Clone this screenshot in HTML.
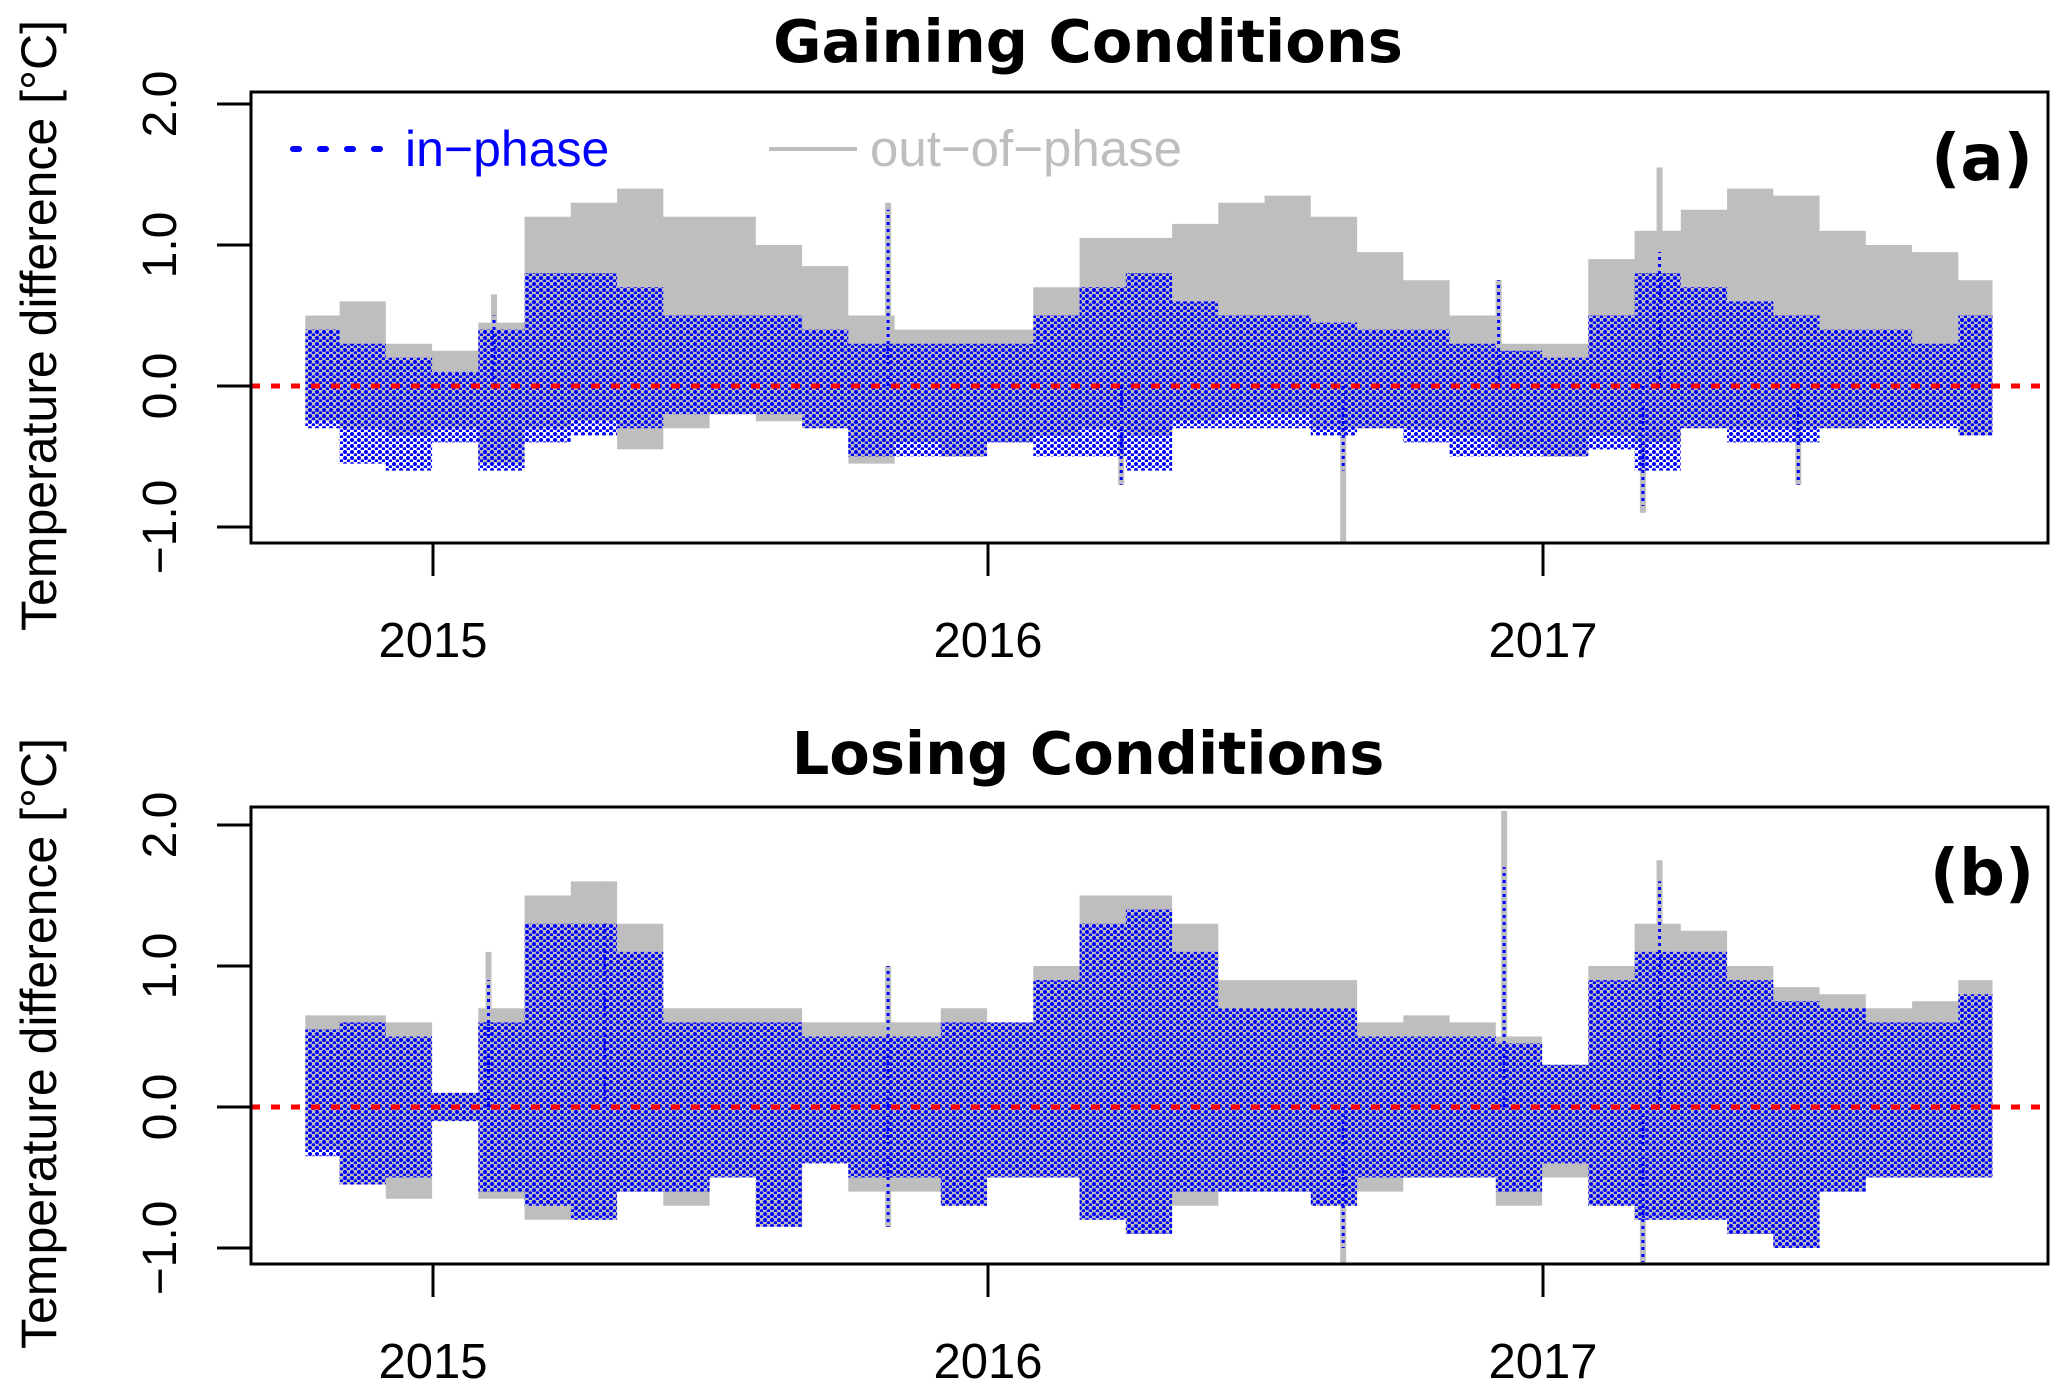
<!DOCTYPE html>
<html><head><meta charset="utf-8"><style>
html,body{margin:0;padding:0;background:#fff;}
svg{display:block;}
</style></head><body>
<svg id="fig" width="2067" height="1392" viewBox="0 0 2067 1392" xmlns="http://www.w3.org/2000/svg">
<defs>
<pattern id="dots" width="7" height="6" patternUnits="userSpaceOnUse">
<circle cx="2" cy="2" r="2" fill="#0000ff"/>
<circle cx="5.5" cy="5" r="1.8" fill="#0000ff"/>
</pattern>
</defs>
<g id="gA"></g>
<g id="gB"></g>
</svg>
<script>
// monthly bins: Oct 2014 .. Oct 2017 (37 months)
const startYear = 2014.79;
const monthStep = 1/12;
// Panel (a) Gaining conditions
const aGrayMax = [0.5,0.6,0.3,0.25,0.45,1.2,1.3,1.4,1.2,1.2,1.0,0.85,0.5,0.4,0.4,0.4,0.7,1.05,1.05,1.15,1.3,1.35,1.2,0.95,0.75,0.5,0.3,0.3,0.9,1.1,1.25,1.4,1.35,1.1,1.0,0.95,0.75];
const aGrayMin = [-0.25,-0.3,-0.35,-0.3,-0.55,-0.3,-0.25,-0.45,-0.3,-0.2,-0.25,-0.3,-0.55,-0.4,-0.5,-0.4,-0.35,-0.3,-0.35,-0.25,-0.2,-0.2,-0.3,-0.3,-0.3,-0.35,-0.45,-0.5,-0.35,-0.4,-0.3,-0.3,-0.3,-0.3,-0.25,-0.25,-0.35];
const aBlueMax = [0.4,0.3,0.2,0.1,0.4,0.8,0.8,0.7,0.5,0.5,0.5,0.4,0.3,0.3,0.3,0.3,0.5,0.7,0.8,0.6,0.5,0.5,0.45,0.4,0.4,0.3,0.25,0.2,0.5,0.8,0.7,0.6,0.5,0.4,0.4,0.3,0.5];
const aBlueMin = [-0.3,-0.55,-0.6,-0.4,-0.6,-0.4,-0.35,-0.3,-0.2,-0.2,-0.2,-0.3,-0.5,-0.5,-0.5,-0.4,-0.5,-0.5,-0.6,-0.3,-0.3,-0.3,-0.35,-0.3,-0.4,-0.5,-0.5,-0.5,-0.45,-0.6,-0.3,-0.4,-0.4,-0.3,-0.3,-0.3,-0.35];
const aSpikeDates = [2015.11,2015.82,2016.24,2016.64,2016.92,2017.18,2017.21,2017.46];
const aSpikeGray = [0.65,1.3,-0.7,-1.15,0.75,-0.9,1.55,-0.7];
const aSpikeBlue = [0.5,1.25,-0.7,-0.6,0.75,-0.85,0.95,-0.7];
// Panel (b) Losing conditions
const bGrayMax = [0.65,0.65,0.6,0.1,0.7,1.5,1.6,1.3,0.7,0.7,0.7,0.6,0.6,0.6,0.7,0.6,1.0,1.5,1.5,1.3,0.9,0.9,0.9,0.6,0.65,0.6,0.5,0.3,1.0,1.3,1.25,1.0,0.85,0.8,0.7,0.75,0.9];
const bGrayMin = [-0.3,-0.55,-0.65,-0.1,-0.65,-0.8,-0.8,-0.6,-0.7,-0.5,-0.85,-0.4,-0.6,-0.6,-0.7,-0.5,-0.5,-0.8,-0.9,-0.7,-0.6,-0.6,-0.7,-0.6,-0.5,-0.5,-0.7,-0.5,-0.7,-0.8,-0.8,-0.9,-1.0,-0.6,-0.5,-0.5,-0.5];
const bBlueMax = [0.55,0.6,0.5,0.1,0.6,1.3,1.3,1.1,0.6,0.6,0.6,0.5,0.5,0.5,0.6,0.6,0.9,1.3,1.4,1.1,0.7,0.7,0.7,0.5,0.5,0.5,0.45,0.3,0.9,1.1,1.1,0.9,0.75,0.7,0.6,0.6,0.8];
const bBlueMin = [-0.35,-0.55,-0.5,-0.1,-0.6,-0.7,-0.8,-0.6,-0.6,-0.5,-0.85,-0.4,-0.5,-0.5,-0.7,-0.5,-0.5,-0.8,-0.9,-0.6,-0.6,-0.6,-0.7,-0.5,-0.5,-0.5,-0.6,-0.4,-0.7,-0.8,-0.8,-0.9,-1.0,-0.6,-0.5,-0.5,-0.5];
const bSpikeDates = [2015.10,2015.31,2015.82,2015.82,2016.64,2016.93,2017.18,2017.21];
const bSpikeGray = [1.1,1.6,1.0,-0.85,-1.15,2.1,-1.15,1.75];
const bSpikeBlue = [0.9,1.3,1.0,-0.85,-1.0,1.7,-1.1,1.6];
const yTicks = [-1.0,0.0,1.0,2.0];
const yTickLabels = ["\u22121.0","0.0","1.0","2.0"];
const xTicks = [2015,2016,2017];
const xTickLabels = ["2015","2016","2017"];

const NS = "http://www.w3.org/2000/svg";
const boxL = 251, boxR = 2048;
function xs(t){ return 433 + (t - 2015) * 555; }
function mk(tag, attrs, parent){ const e = document.createElementNS(NS, tag); for (const k in attrs) e.setAttribute(k, attrs[k]); parent.appendChild(e); return e; }

function band(g, maxArr, minArr, ys, fill, name){
  const pts = [];
  for (let i = 0; i < maxArr.length; i++){
    const t = startYear + i * monthStep;
    const x0 = xs(i === 0 ? t - 0.02 : t - monthStep/2), x1 = xs(i === maxArr.length-1 ? t + 0.02 : t + monthStep/2);
    pts.push([x0, ys(maxArr[i])], [x1, ys(maxArr[i])]);
  }
  for (let i = minArr.length - 1; i >= 0; i--){
    const t = startYear + i * monthStep;
    const x0 = xs(i === 0 ? t - 0.02 : t - monthStep/2), x1 = xs(i === minArr.length-1 ? t + 0.02 : t + monthStep/2);
    pts.push([x1, ys(minArr[i])], [x0, ys(minArr[i])]);
  }
  const p = mk("polygon", {points: pts.map(p => p[0].toFixed(1)+","+p[1].toFixed(1)).join(" "), fill: fill}, g);
  
  
}

function panel(g, o){
  const ys = v => o.y0 - v * 141;
  const clipId = "clip" + o.id;
  const cp = mk("clipPath", {id: clipId}, g);
  mk("rect", {x: boxL, y: o.top, width: boxR - boxL, height: o.bot - o.top}, cp);
  const plot = mk("g", {"clip-path": "url(#" + clipId + ")"}, g);
  
  
  band(plot, o.gMax, o.gMin, ys, "#bebebe", "out-of-phase-series");
  for (let i = 0; i < o.sd.length; i++){
    const l = mk("line", {x1: xs(o.sd[i]), x2: xs(o.sd[i]), y1: ys(0), y2: ys(o.sg[i]), stroke: "#bebebe", "stroke-width": 6}, plot);
    
    
  }
  band(plot, o.bMax, o.bMin, ys, "url(#dots)", "in-phase-series");
  for (let i = 0; i < o.sd.length; i++){
    const l = mk("line", {x1: xs(o.sd[i]), x2: xs(o.sd[i]), y1: ys(0), y2: ys(o.sb[i]), stroke: "#0000ff", "stroke-width": 3, "stroke-dasharray": "3 4"}, plot);
    
    
  }
  const z = mk("line", {x1: boxL, x2: boxR, y1: ys(0), y2: ys(0), stroke: "#ff0000", "stroke-width": 5, "stroke-dasharray": "9 11"}, plot);
  
  
  const box = mk("rect", {x: boxL, y: o.top, width: boxR - boxL, height: o.bot - o.top, fill: "none", stroke: "#000", "stroke-width": 3}, g);
  
  
  for (let i = 0; i < yTicks.length; i++){
    const y = ys(yTicks[i]);
    const tk = mk("line", {x1: 217, x2: boxL, y1: y, y2: y, stroke: "#000", "stroke-width": 3}, g);
    
    
    const tl = mk("text", {x: 0, y: 0, transform: "translate(176," + y + ") rotate(-90)", "text-anchor": "middle", "font-family": "Liberation Sans, sans-serif", "font-size": 48}, g);
    tl.textContent = yTickLabels[i];
    
    
  }
  for (let i = 0; i < xTicks.length; i++){
    const x = xs(xTicks[i]);
    const tk = mk("line", {x1: x, x2: x, y1: o.bot, y2: o.bot + 33, stroke: "#000", "stroke-width": 3}, g);
    
    
    const tl = mk("text", {x: x, y: o.bot + 114, "text-anchor": "middle", "font-family": "Liberation Sans, sans-serif", "font-size": 49}, g);
    tl.textContent = xTickLabels[i];
    
    
  }
  const yt = mk("text", {x: 0, y: 0, transform: "translate(56," + ((o.top + o.bot) / 2 + 8) + ") rotate(-90)", "text-anchor": "middle", "font-family": "Liberation Sans, sans-serif", "font-size": 50}, g);
  yt.textContent = "Temperature difference [°C]";
  
  
  const tt = mk("text", {x: 1088, y: o.titleY, "text-anchor": "middle", "font-family": "DejaVu Sans, sans-serif", "font-weight": "bold", "font-size": 59}, g);
  tt.textContent = o.title;
  
  
  const pl = mk("text", {x: 1982, y: o.top + 88, "text-anchor": "middle", "font-family": "DejaVu Sans, sans-serif", "font-weight": "bold", "font-size": 64}, g);
  pl.textContent = o.label;
  
  
}

panel(document.getElementById("gA"), {id: "A", top: 92, bot: 543, y0: 386, gMax: aGrayMax, gMin: aGrayMin, bMax: aBlueMax, bMin: aBlueMin, sd: aSpikeDates, sg: aSpikeGray, sb: aSpikeBlue, title: "Gaining Conditions", titleY: 62, label: "(a)"});
panel(document.getElementById("gB"), {id: "B", top: 807, bot: 1264, y0: 1107, gMax: bGrayMax, gMin: bGrayMin, bMax: bBlueMax, bMin: bBlueMin, sd: bSpikeDates, sg: bSpikeGray, sb: bSpikeBlue, title: "Losing Conditions", titleY: 774, label: "(b)"});

// legend
const gA = document.getElementById("gA");
const leg = mk("g", {}, gA);


const l1 = mk("line", {x1: 293, x2: 383, y1: 149, y2: 149, stroke: "#0000ff", "stroke-width": 6, "stroke-linecap": "round", "stroke-dasharray": "6 21"}, leg);


const t1 = mk("text", {x: 405, y: 166, "font-family": "Liberation Sans, sans-serif", "font-size": 50, fill: "#0000ff"}, leg);
t1.textContent = "in\u2212phase";


const l2 = mk("line", {x1: 769, x2: 857, y1: 149, y2: 149, stroke: "#bebebe", "stroke-width": 4}, leg);


const t2 = mk("text", {x: 870, y: 166, "font-family": "Liberation Sans, sans-serif", "font-size": 51, fill: "#bebebe"}, leg);
t2.textContent = "out\u2212of\u2212phase";


</script>
</body></html>
